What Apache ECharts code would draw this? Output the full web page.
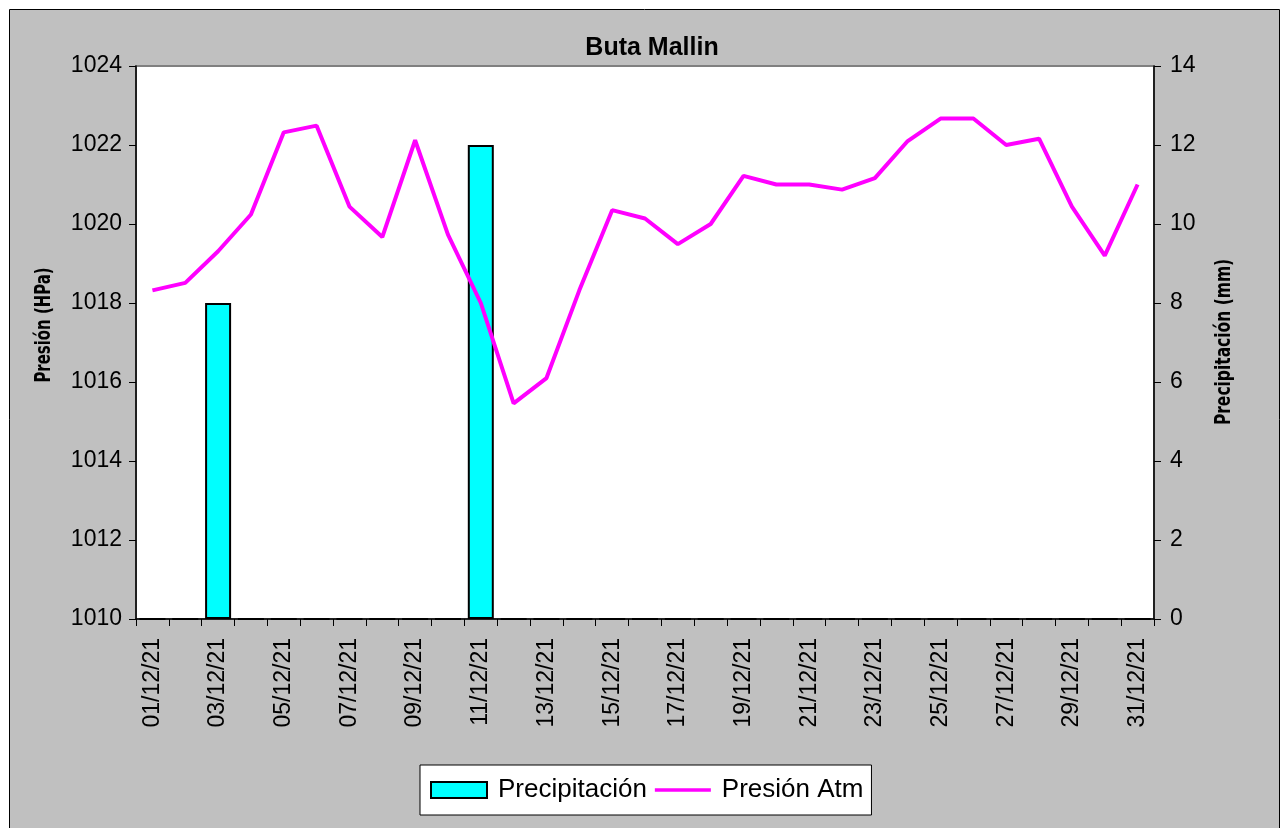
<!DOCTYPE html>
<html>
<head>
<meta charset="utf-8">
<script src="https://cdn.jsdelivr.net/npm/echarts@6/dist/echarts.min.js"></script>
<style>
html,body{margin:0;padding:0;background:#fff;}
#chart{width:1280px;height:828px;}
</style>
</head>
<body>
<div id="chart"></div>
<script>
const categories = ['01/12/21','02/12/21','03/12/21','04/12/21','05/12/21','06/12/21','07/12/21','08/12/21','09/12/21','10/12/21',
  '11/12/21','12/12/21','13/12/21','14/12/21','15/12/21','16/12/21','17/12/21','18/12/21','19/12/21','20/12/21',
  '21/12/21','22/12/21','23/12/21','24/12/21','25/12/21','26/12/21','27/12/21','28/12/21','29/12/21','30/12/21','31/12/21'];
const precipitacion = [0,0,8,0,0,0,0,0,0,0,12,0,0,0,0,0,0,0,0,0,0,0,0,0,0,0,0,0,0,0,0];
const presionAtm = [1018.32,1018.51,1019.31,1020.24,1022.32,1022.49,1020.44,1019.67,1022.12,1019.73,
  1018.0,1015.46,1016.1,1018.32,1020.35,1020.14,1019.49,1020.0,1021.22,1021.0,
  1021.0,1020.87,1021.16,1022.1,1022.67,1022.67,1022.0,1022.16,1020.44,1019.2,1021.0];
const titleText = 'Buta Mallin';
const leftAxisName = 'Presión (HPa)';
const rightAxisName = 'Precipitación (mm)';
const seriesNames = ['Precipitación','Presión Atm'];

const chart = echarts.init(document.getElementById('chart'), null, {renderer:'canvas'});
const FONT = "'Liberation Sans', Arial, sans-serif";
const NARROW = "'Liberation Sans Narrow', 'DejaVu Sans Condensed', 'Liberation Sans', sans-serif";
chart.setOption({
  animation:false,
  backgroundColor:'#ffffff',
  graphic:[
    {type:'rect', z:-10, shape:{x:9.5,y:9.5,width:1270,height:830}, style:{fill:'#c0c0c0', stroke:'#000', lineWidth:1}},
    {type:'text', z:10, x:45, y:325, rotation:Math.PI/2, scaleX:0.79,
      style:{text:leftAxisName, font:"bold 21px "+NARROW, fill:'#000', align:'center', verticalAlign:'middle'}},
    {type:'text', z:10, x:1225, y:342, rotation:Math.PI/2, scaleX:0.82,
      style:{text:rightAxisName, font:"bold 21px "+NARROW, fill:'#000', align:'center', verticalAlign:'middle'}}
  ],
  title:{
    text:titleText, left:647, top:31, textAlign:'center',
    textStyle:{fontFamily:FONT, fontWeight:'bold', fontSize:25, color:'#000'}
  },
  legend:{
    left:420, top:765,
    backgroundColor:'#fff', borderColor:'#000', borderWidth:1,
    padding:[12,8,12,10], itemGap:8, itemWidth:56, itemHeight:16,
    textStyle:{fontFamily:FONT, fontSize:26, color:'#000', padding:[0,0,0,6]},
    data:[{name:seriesNames[0], icon:'rect'},
          {name:seriesNames[1], icon:'path://M0,0 L60,0 L60,4 L0,4 Z', itemStyle:{color:'#ff00ff', borderWidth:0}}]
  },
  grid:{left:136, top:66, width:1018, height:553, show:true, backgroundColor:'#fff', borderColor:'#808080', borderWidth:2},
  xAxis:{
    type:'category', data:categories, boundaryGap:true,
    axisLine:{lineStyle:{color:'#000', width:1.5}},
    axisTick:{show:true, interval:0, length:7, lineStyle:{color:'#000'}},
    axisLabel:{interval:1, rotate:90, margin:19, fontFamily:FONT, fontSize:23, color:'#000'},
    splitLine:{show:false}
  },
  yAxis:[
    {type:'value', min:1010, max:1024, interval:2, position:'left',
      axisLine:{show:true, lineStyle:{color:'#000', width:1.5}},
      axisTick:{show:true, length:7, lineStyle:{color:'#000'}},
      axisLabel:{margin:14, fontFamily:FONT, fontSize:23, color:'#000', formatter:function(v){return String(v);}},
      splitLine:{show:false}},
    {type:'value', min:0, max:14, interval:2, position:'right',
      axisLine:{show:true, lineStyle:{color:'#000', width:1.5}},
      axisTick:{show:true, length:7, lineStyle:{color:'#000'}},
      axisLabel:{margin:16, fontFamily:FONT, fontSize:23, color:'#000', formatter:function(v){return String(v);}},
      splitLine:{show:false}}
  ],
  series:[
    {name:seriesNames[0], type:'bar', yAxisIndex:1, data:precipitacion, barWidth:26,
      itemStyle:{color:'#00ffff', borderColor:'#000', borderWidth:2}},
    {name:seriesNames[1], type:'line', yAxisIndex:0, data:presionAtm, symbol:'none', showSymbol:false,
      lineStyle:{color:'#ff00ff', width:4}, itemStyle:{color:'#ff00ff'}, z:5}
  ]
});
</script>
</body>
</html>
